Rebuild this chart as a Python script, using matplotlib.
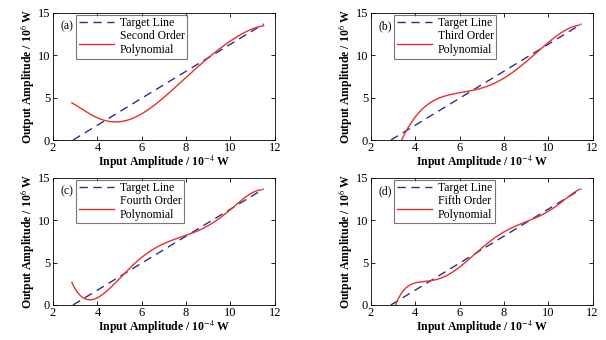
import numpy as np
import matplotlib.pyplot as plt

plt.rcParams['font.family'] = ['Liberation Serif', 'DejaVu Serif']
plt.rcParams['mathtext.fontset'] = 'stix'

# target line end points
target_x = [2.9, 11.5]
target_y = [0.0, 13.7]

# polynomial fits
x_a = [2.85, 3.5, 4, 4.5, 4.9, 5.5, 6, 6.5, 7, 7.5, 8, 8.5, 9, 9.5, 10, 10.5, 11, 11.5]
y_a = [4.4, 3.3, 2.65, 2.25, 2.15, 2.4, 3.1, 4.0, 5.1, 6.2, 7.4, 8.5, 9.7, 10.8, 11.7, 12.5, 13.1, 13.5]

x_b = [3.4, 3.6, 4, 4.5, 5, 5.5, 6, 6.5, 7, 7.5, 8, 8.5, 9, 9.5, 10, 10.5, 11, 11.4]
y_b = [0.0, 1.2, 2.8, 4.0, 4.8, 5.3, 5.6, 5.9, 6.2, 6.6, 7.2, 8.1, 9.3, 10.5, 11.5, 12.5, 13.2, 13.6]

x_c = [2.85, 3.2, 3.5, 3.75, 4, 4.5, 5, 5.5, 6, 6.5, 7, 7.5, 8, 8.5, 9, 9.5, 10, 10.5, 11, 11.4]
y_c = [2.6, 1.3, 0.7, 0.55, 0.8, 1.8, 3.2, 4.5, 5.6, 6.5, 7.2, 7.8, 8.3, 8.7, 9.3, 10.2, 11.3, 12.4, 13.2, 13.6]

x_d = [3.1, 3.3, 3.6, 4, 4.5, 5, 5.5, 6, 6.5, 7, 7.5, 8, 8.5, 9, 9.5, 10, 10.5, 11, 11.4]
y_d = [0.0, 1.0, 2.0, 2.6, 2.85, 3.1, 3.6, 4.4, 5.5, 6.7, 7.8, 8.7, 9.3, 9.8, 10.3, 11.0, 12.0, 13.0, 13.6]

tags = ['(a)', '(b)', '(c)', '(d)']
orders = ['Second Order', 'Third Order', 'Fourth Order', 'Fifth Order']
xs = [x_a, x_b, x_c, x_d]
ys = [y_a, y_b, y_c, y_d]

fig = plt.figure(figsize=(6.06, 3.4), dpi=100)
lefts = [0.0875, 0.612, 0.0875, 0.612]
bottoms = [0.588, 0.588, 0.103, 0.103]

for i in range(4):
    ax = fig.add_axes([lefts[i], bottoms[i], 0.366, 0.374])
    ax.plot(target_x, target_y, color='#2e2e8a', ls=(0, (6, 4)), lw=1.0, label='Target Line')
    # smooth the read points for drawing
    xx = np.linspace(xs[i][0], xs[i][-1], 300)
    coef = np.polyfit(xs[i], ys[i], 6)
    ax.plot(xx, np.polyval(coef, xx), color='#e8302a', lw=1.0, label=orders[i] + '\nPolynomial')
    ax.set_xlim(2, 12)
    ax.set_ylim(0, 15)
    ax.set_xticks([2, 4, 6, 8, 10, 12])
    ax.set_yticks([0, 5, 10, 15])
    ax.tick_params(direction='in', top=True, right=True, labelsize=9, length=3, width=0.6)
    ax.tick_params(axis='x', pad=1.5)
    ax.tick_params(axis='y', pad=2)
    for s in ax.spines.values():
        s.set_linewidth(0.6)
    ax.set_xlabel(r'Input Amplitude / 10$^{-4}$ W', fontsize=8.5, fontweight='bold', labelpad=0)
    ax.set_ylabel(r'Output Amplitude / 10$^{6}$ W', fontsize=8.5, fontweight='bold', labelpad=1)
    ax.text(0.035, 0.94, tags[i], transform=ax.transAxes, fontsize=8.5, va='top')
    leg = ax.legend(loc='upper left', bbox_to_anchor=(0.105, 0.985), fontsize=8.5,
                    fancybox=False, edgecolor='#555555', handlelength=3.0,
                    borderpad=0.2, labelspacing=0.1, handletextpad=0.5, borderaxespad=0)
    leg.get_frame().set_linewidth(0.8)

fig.savefig('out.png', dpi=100)
